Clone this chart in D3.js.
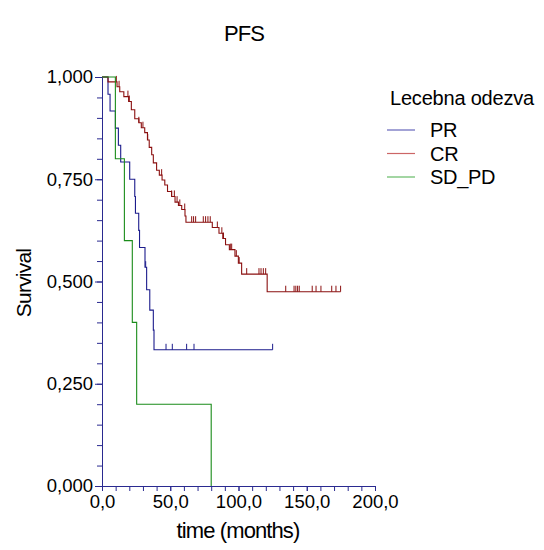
<!DOCTYPE html>
<html>
<head>
<meta charset="utf-8">
<script src="https://cdn.jsdelivr.net/npm/d3@7"></script>
<style>
  body { margin: 0; background: #fff; }
  svg { font-family: "Liberation Sans", Arial, sans-serif; }
</style>
</head>
<body>
<div class="container"></div>
<script>
// Kaplan-Meier steps: [time, survival after event]
const prSteps = [[0,1],[4.4,0.958],[5.9,0.917],[9.8,0.875],[12,0.833],[13.7,0.792],[20.3,0.75],
  [24,0.708],[24.5,0.667],[26.9,0.625],[27.5,0.583],[31.5,0.535],[32.7,0.48],[35,0.43],
  [37.6,0.381],[38.1,0.333],[125,0.333]]
const prCensor = [32, 46.9, 51.5, 62, 67.4, 125]

const crSteps = [[0,1],[4.4,0.988],[11,0.976],[13,0.964],[16,0.952],[19.5,0.94],[21.5,0.92],
  [24,0.898],[27,0.888],[28.8,0.876],[31.3,0.864],[33.3,0.846],[34.6,0.828],[36.4,0.81],
  [37.6,0.79],[40,0.772],[42,0.76],[44,0.748],[46,0.736],[48,0.72],[51,0.708],[53.5,0.694],
  [56,0.686],[58.4,0.676],[60.8,0.66],[61.5,0.645],[80.8,0.632],[85.7,0.618],[88.5,0.605],
  [90.5,0.59],[93.3,0.578],[97.4,0.562],[99.9,0.545],[102.3,0.518],[121,0.475],[174.8,0.475]]
const crCensor = [10.5, 12.5, 19, 20, 27, 30, 33.5, 43.7, 51, 53, 55, 57, 60.6, 65.7, 67.1, 68.6,
  74.2, 75.9, 77.6, 79.3, 84.5, 87.8, 89, 94, 95, 98.4, 100.5, 106, 115, 116.5, 118.2, 119.9,
  134.6, 140.7, 142, 143.3, 144.5, 154, 156.8, 160.4, 168.3, 171.4, 174.8]

const sdSteps = [[0,1],[9.8,0.8],[16.4,0.6],[22.2,0.4],[25.4,0.2],[80,0]]
const sdCensor = []

const groups = ["PR", "CR", "SD_PD"]
const colors = ["#1c1c8c", "#8b1010", "#1a8c1a"]
const legendColors = ["#6666bb", "#cc6666", "#66bb66"]

const xTicks = [0, 50, 100, 150, 200]
const yTicks = [0, 0.25, 0.5, 0.75, 1]
const xMinor = d3.range(0, 201, 10)
const yMinor = d3.range(0, 1.001, 0.05)

const w = 544
const h = 550
const axisColor = "#2a2a90"

const svg = d3.select(".container").append("svg")
  .attr("width", w).attr("height", h)

const xScale = d3.scaleLinear().domain([0, 200]).range([102, 375])
const yScale = d3.scaleLinear().domain([0, 1]).range([486, 77])

const fmtX = d => d3.format(".1f")(d).replace(".", ",")
const fmtY = d => d3.format(".3f")(d).replace(".", ",")

// axes
const xAxis = svg.append("g").attr("transform", "translate(0,486)")
xAxis.call(d3.axisBottom(xScale).tickValues(xMinor).tickSize(5).tickFormat(""))
const xLab = svg.append("g").attr("transform", "translate(0,486)")
xLab.call(d3.axisBottom(xScale).tickValues(xTicks).tickSize(5).tickPadding(4).tickFormat(fmtX))

const yAxis = svg.append("g").attr("transform", "translate(102,0)")
yAxis.call(d3.axisLeft(yScale).tickValues(yMinor).tickSize(5).tickFormat(""))
const yLab = svg.append("g").attr("transform", "translate(102,0)")
yLab.call(d3.axisLeft(yScale).tickValues(yTicks).tickSize(7).tickPadding(2).tickFormat(fmtY))

svg.selectAll(".domain, .tick line").attr("stroke", axisColor)
svg.selectAll(".tick text").attr("fill", "#000").style("font-size", "18.5px")
  .style("font-family", "'Liberation Sans', Arial, sans-serif")
xLab.selectAll(".domain").remove()
yLab.selectAll(".domain").remove()

// survival curves
const line = d3.line()
  .x(d => xScale(d[0]))
  .y(d => yScale(d[1]))
  .curve(d3.curveStepAfter)

const survAt = (steps, t) => {
  let s = steps[0][1]
  steps.forEach(d => { if (d[0] <= t) s = d[1] })
  return s
}

const allSteps = [prSteps, crSteps, sdSteps]
const allCensor = [prCensor, crCensor, sdCensor]

allSteps.forEach((steps, i) => {
  svg.append("path")
    .datum(steps)
    .attr("d", line)
    .attr("fill", "none")
    .attr("stroke", colors[i])
    .attr("stroke-width", 1.1)

  svg.selectAll(".cens" + i)
    .data(allCensor[i])
    .enter()
    .append("line")
    .attr("class", "cens" + i)
    .attr("x1", d => xScale(d))
    .attr("x2", d => xScale(d))
    .attr("y1", d => yScale(survAt(steps, d)))
    .attr("y2", d => yScale(survAt(steps, d)) - 6)
    .attr("stroke", colors[i])
    .attr("stroke-width", 1)
})

// titles
svg.append("text").attr("x", 244).attr("y", 41).attr("text-anchor", "middle")
  .style("font-size", "22px").style("letter-spacing", "-1px").text("PFS")

svg.append("text").attr("transform", "translate(31,283) rotate(-90)")
  .attr("text-anchor", "middle").style("font-size", "21px").style("letter-spacing", "-0.8px")
  .text("Survival")

svg.append("text").attr("x", 238).attr("y", 538).attr("text-anchor", "middle")
  .style("font-size", "22px").style("letter-spacing", "-0.9px").text("time (months)")

// legend
svg.append("text").attr("x", 390).attr("y", 105)
  .style("font-size", "20px").style("letter-spacing", "-0.2px").text("Lecebna odezva")

const legend = svg.selectAll(".leg")
  .data(groups)
  .enter()
  .append("g")
  .attr("class", "leg")
  .attr("transform", (d, i) => "translate(0," + (130 + i * 23.5) + ")")

legend.append("line")
  .attr("x1", 387).attr("x2", 415)
  .attr("stroke", (d, i) => legendColors[i])
  .attr("stroke-width", 1.2)

legend.append("text")
  .attr("x", 430).attr("y", 7)
  .style("font-size", "20px").style("letter-spacing", "-0.3px")
  .text(d => d)
</script>
</body>
</html>
